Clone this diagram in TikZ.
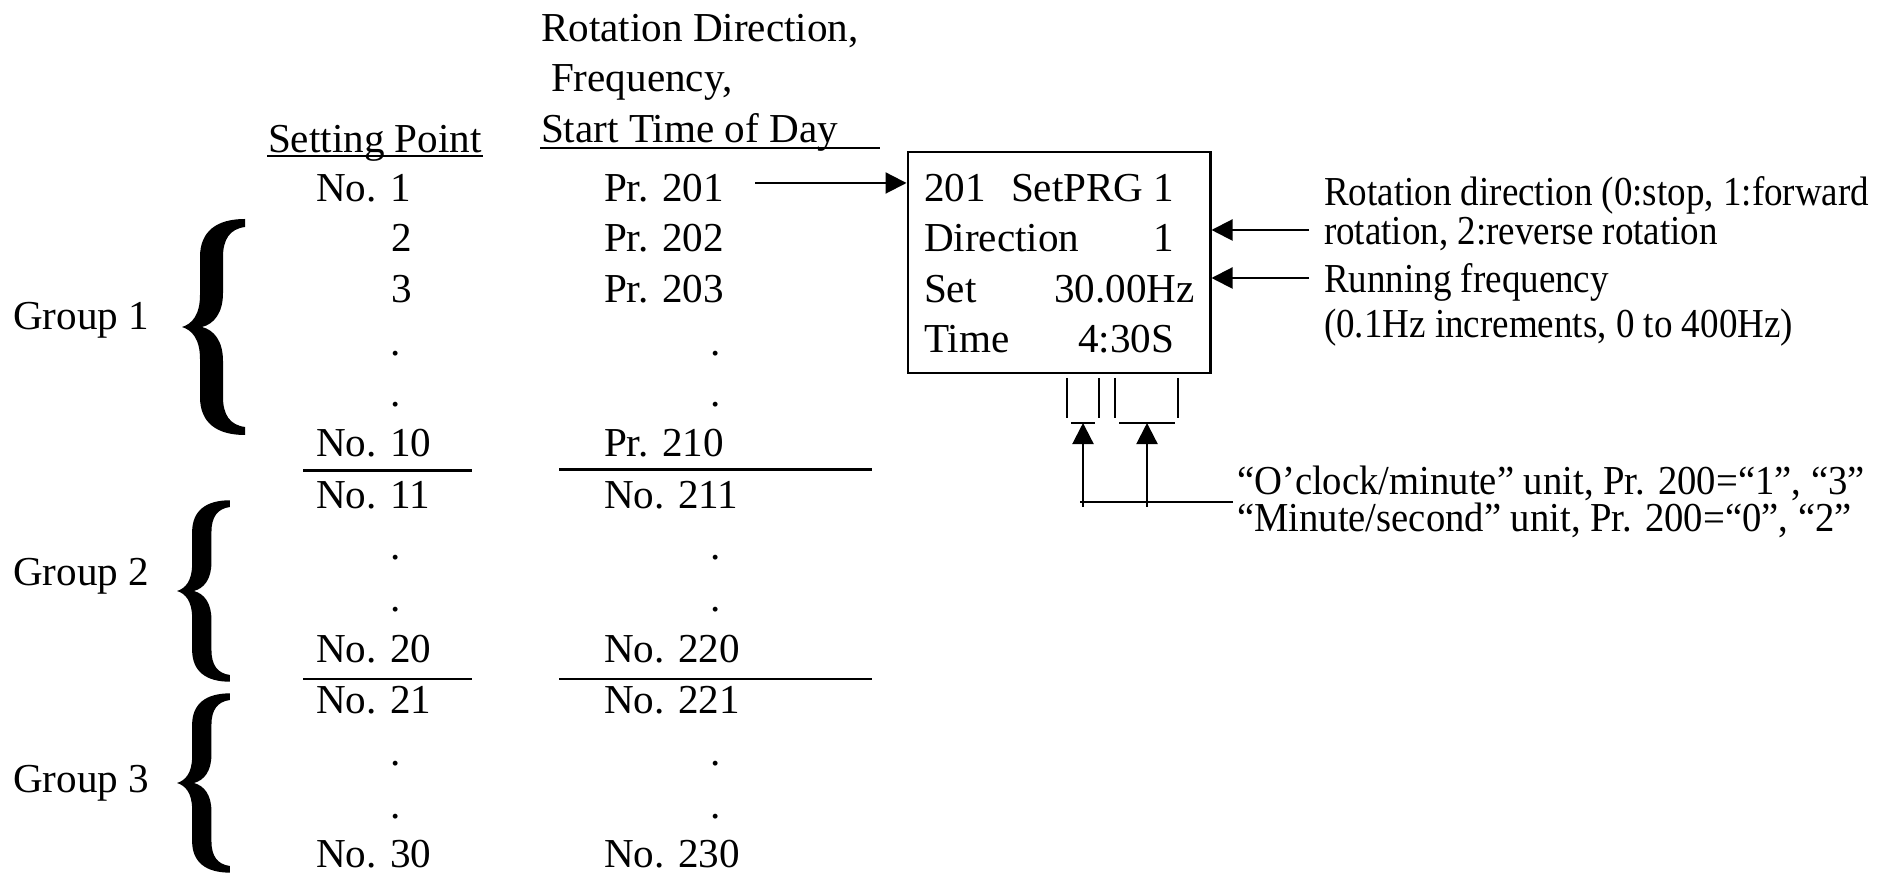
\documentclass[tikz,border=0pt]{standalone}
\usepackage{fontspec}
\setmainfont{Liberation Serif}
\newfontfamily\notefont{Liberation Serif}[FakeStretch=0.9]
\newfontfamily\unitfont{Liberation Serif}[FakeStretch=0.94]
\usetikzlibrary{arrows.meta}

\tikzset{
  txt/.style={inner sep=0pt, anchor=base west, font=\fontsize{11.7}{14}\selectfont},
  note/.style={inner sep=0pt, anchor=base west, font=\fontsize{11.7}{14}\notefont},
  unit/.style={inner sep=0pt, anchor=base west, font=\fontsize{11.7}{14}\unitfont},
  arr/.style={line width=0.6pt, -{Triangle[length=0.21cm, width=0.21cm]}},
  sep/.style={line width=0.85pt},
  gbrace/.pic={
    \fill (63,-108) .. controls (35,-108) and (18,-96) .. (18,-70) -- (18,-32)
      .. controls (18,-12) and (10,-3) .. (0,0) .. controls (10,3) and (18,12) .. (18,32)
      -- (18,70) .. controls (18,96) and (35,108) .. (63,108) -- (63,100)
      .. controls (48,98) and (41,88) .. (41,70) -- (41,34)
      .. controls (41,14) and (32,3) .. (20,0) .. controls (32,-3) and (41,-14) .. (41,-34)
      -- (41,-70) .. controls (41,-88) and (48,-98) .. (63,-100) -- cycle;
  }
}

\begin{document}
\begin{tikzpicture}[x=0.01cm, y=-0.01cm, line width=0.6pt]
		\useasboundingbox (0,0) rectangle (1877,874);
		
		% En-têtes
		\node[txt] (hsp) at (267,153) {Setting Point};
		\draw ([yshift=-0.03cm]hsp.base west) -- ([yshift=-0.03cm]hsp.base east);
		\node[txt] (hrot) at (540,42) {Rotation Direction,};
		\node[txt] (hfreq) at (550,92) {Frequency,};
		\node[txt] (hstart) at (540,143) {Start Time of Day};
		\draw ([yshift=-0.05cm]hstart.base west) -- ++(340,0);
		
		% Groupes et accolades
		\node[txt] (g1) at (12,330) {Group 1};
		\node[txt] (g2) at (12,586) {Group 2};
		\node[txt] (g3) at (12,792) {Group 3};
		\pic at (182,327) {gbrace};
		\pic[xscale=0.84, yscale=0.84] at (177,591) {gbrace};
		\pic[xscale=0.84, yscale=0.83] at (177,783) {gbrace};
		
		% Points de réglage
		\node[txt] (no1) at (315,202) {No. 1};
		\node[txt] (no2) at (390,252) {2};
		\node[txt] (no3) at (390,303) {3};
		\node[txt] (nod1) at (389,356) {.};
		\node[txt] (nod2) at (389,407) {.};
		\node[txt] (no10) at (315,457) {No. 10};
		\node[txt] (no11) at (315,509) {No. 11};
		\node[txt] (nod3) at (389,560) {.};
		\node[txt] (nod4) at (389,612) {.};
		\node[txt] (no20) at (315,663) {No. 20};
		\node[txt] (no21) at (315,714) {No. 21};
		\node[txt] (nod5) at (389,766) {.};
		\node[txt] (nod6) at (389,818) {.};
		\node[txt] (no30) at (315,867) {No. 30};
		
		% Paramètres
		\node[txt] (pr1) at (603,202) {Pr. 201};
		\node[txt] (pr2) at (603,252) {Pr. 202};
		\node[txt] (pr3) at (603,303) {Pr. 203};
		\node[txt] (prd1) at (709,356) {.};
		\node[txt] (prd2) at (709,407) {.};
		\node[txt] (pr10) at (603,457) {Pr. 210};
		\node[txt] (pr11) at (603,509) {No. 211};
		\node[txt] (prd3) at (709,560) {.};
		\node[txt] (prd4) at (709,612) {.};
		\node[txt] (pr20) at (603,663) {No. 220};
		\node[txt] (pr21) at (603,714) {No. 221};
		\node[txt] (prd5) at (709,766) {.};
		\node[txt] (prd6) at (709,818) {.};
		\node[txt] (pr30) at (603,867) {No. 230};
		
		% Séparations
		\draw[sep] (303,471) -- (472,471);
		\draw[sep] (559,470) -- (872,470);
		\draw[sep] (303,679) -- (472,679);
		\draw[sep] (559,679) -- (872,679);
		
		% Afficheur
		\node[draw, line width=0.8pt, inner sep=0pt, minimum width=3.02cm, minimum height=2.21cm] (lcd) at (1059,262.5) {};
		\node[txt] (l1a) at (923,202) {201};
		\node[txt] (l1b) at (1010,202) {SetPRG 1};
		\node[txt] (l2a) at (923,252) {Direction};
		\node[txt] (l2b) at (1152,252) {1};
		\node[txt] (l3a) at (923,303) {Set};
		\node[txt] (l3b) at (1053,303) {30.00Hz};
		\node[txt] (l4a) at (923,353) {Time};
		\node[txt] (l4b) at (1077,353) {4:30S};
		\coordinate (prout) at ([shift={(30,-19)}]pr1.base east);
		\draw[arr] (prout) -- (prout -| lcd.west);
		
		% Explications à droite
		\node[note] (rd1) at (1323,206) {Rotation direction (0:stop, 1:forward};
		\node[note] (rd2) at (1323,245) {rotation, 2:reverse rotation};
		\node[note] (rf1) at (1323,293) {Running frequency};
		\node[note] (rf2) at (1323,338) {(0.1Hz increments, 0 to 400Hz)};
		\coordinate (rdin) at ([shift={(-14,-15)}]rd2.base west);
		\coordinate (rfin) at ([shift={(-14,-15)}]rf1.base west);
		\draw[arr] (rdin) -- (rdin -| lcd.east);
		\draw[arr] (rfin) -- (rfin -| lcd.east);
		
		% Repères sous l'afficheur
		\draw (1067,378) -- (1067,418);
		\draw (1099,378) -- (1099,418);
		\draw (1115,378) -- (1115,418);
		\draw (1178,378) -- (1178,418);
		\draw (1071,423) -- (1095,423);
		\draw (1119,423) -- (1175,423);
		
		% Unités
		\node[unit] (um1) at (1236,495) {“O’clock/minute” unit, Pr. 200=“1”, “3”};
		\node[unit] (um2) at (1236,532) {“Minute/second” unit, Pr. 200=“0”, “2”};
		\coordinate (umin) at ([shift={(-3,7)}]um1.base west);
		\coordinate (umjoin) at (1080,502);
		\coordinate (hmfoot) at (1083,507);
		\coordinate (msfoot) at (1147,507);
		\coordinate (hmtick) at (1083,423);
		\coordinate (mstick) at (1147,423);
		\draw (umin) -- (umjoin);
		\draw[arr] (hmfoot) -- (hmtick);
		\draw[arr] (msfoot) -- (mstick);
	\end{tikzpicture}
\end{document}
